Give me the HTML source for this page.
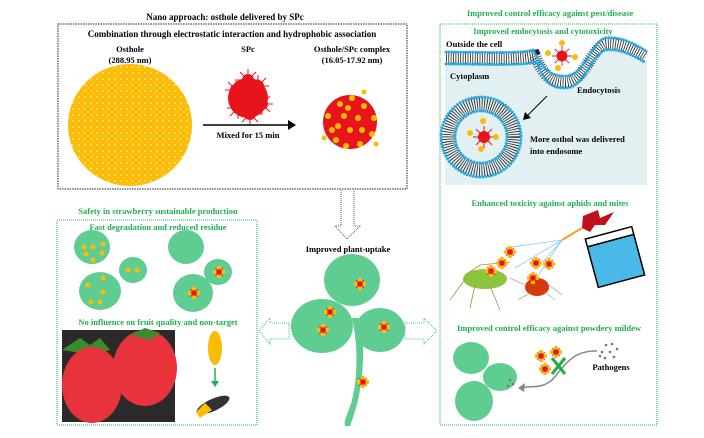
<!DOCTYPE html>
<html><head><meta charset="utf-8"><style>
html,body{margin:0;padding:0;background:#fff;}
svg{display:block;font-family:"Liberation Serif",serif;font-weight:bold;}
</style></head><body>
<svg width="704" height="438" viewBox="0 0 704 438" xmlns="http://www.w3.org/2000/svg">
<defs>
<pattern id="speck" width="6" height="6" patternUnits="userSpaceOnUse">
<rect width="6" height="6" fill="#fbbc05"/><circle cx="1" cy="1" r="0.7" fill="#fff"/><circle cx="4" cy="4" r="0.5" fill="#fde08a"/>
</pattern>
<g id="mk">
<circle cx="0" cy="-4" r="2.3" fill="#fbbc05"/><circle cx="4" cy="0" r="2.3" fill="#fbbc05"/><circle cx="0" cy="4" r="2.3" fill="#fbbc05"/><circle cx="-4" cy="0" r="2.3" fill="#fbbc05"/>
<circle r="2.8" fill="#e8141c"/><path d="M-4,-4L4,4M4,-4L-4,4" stroke="#e8141c" stroke-width="0.8"/>
</g>
<g id="star">
<circle r="6" fill="#e8141c"/><path d="M-11,0H11M0,-11V11M-8,-8L8,8M8,-8L-8,8" stroke="#e8141c" stroke-width="1"/>
</g>
</defs>

<!-- Top section -->
<text x="225" y="20" font-size="9" text-anchor="middle">Nano approach: osthole delivered by SPc</text>
<rect x="58" y="24" width="349" height="165" fill="none" stroke="#222" stroke-width="1" stroke-dasharray="1.5,1"/>
<text x="232" y="37" font-size="9" text-anchor="middle">Combination through electrostatic interaction and hydrophobic association</text>
<text x="130" y="52" font-size="8.5" text-anchor="middle">Osthole</text>
<text x="130" y="63" font-size="8.5" text-anchor="middle">(288.95 nm)</text>
<ellipse cx="130" cy="125" rx="62" ry="61" fill="url(#speck)"/>
<text x="248" y="52" font-size="8.5" text-anchor="middle">SPc</text>
<g transform="translate(248,98)">
<circle r="20" fill="#e8141c"/>
<use href="#star" x="-12" y="-8"/><use href="#star" x="10" y="-12"/><use href="#star" x="14" y="6"/><use href="#star" x="-10" y="10"/><use href="#star" x="2" y="16"/><use href="#star" x="0" y="-18"/>
</g>
<line x1="203" y1="125" x2="290" y2="125" stroke="#000" stroke-width="1.5"/>
<path d="M288,120L296,125L288,130Z" fill="#000"/>
<text x="248" y="138" font-size="8.5" text-anchor="middle">Mixed for 15 min</text>
<text x="352" y="52" font-size="8.5" text-anchor="middle">Osthole/SPc complex</text>
<text x="352" y="63" font-size="8.5" text-anchor="middle">(16.05-17.92 nm)</text>
<g transform="translate(350,122)">
<circle r="27" fill="#e8141c"/>
<g fill="#fbbc05">
<circle cx="-22" cy="-6" r="3"/><circle cx="-18" cy="8" r="3"/><circle cx="-10" cy="-18" r="3"/><circle cx="2" cy="-24" r="3"/><circle cx="14" cy="-16" r="3"/><circle cx="24" cy="-4" r="3"/><circle cx="22" cy="12" r="3"/><circle cx="10" cy="22" r="3"/><circle cx="-4" cy="24" r="3"/><circle cx="-14" cy="18" r="3"/>
<circle cx="-6" cy="-6" r="3"/><circle cx="8" cy="-4" r="3"/><circle cx="0" cy="8" r="3"/><circle cx="12" cy="8" r="3"/><circle cx="-12" cy="4" r="3"/><circle cx="-2" cy="-14" r="3"/><circle cx="14" cy="-30" r="2.5"/><circle cx="-26" cy="16" r="2.5"/><circle cx="26" cy="22" r="2.5"/>
</g></g>

<!-- down arrow -->
<path d="M341,190V226H335L347,239L360,226H354V190" fill="none" stroke="#333" stroke-width="0.8" stroke-dasharray="1,1"/>
<text x="348" y="252" font-size="8.5" text-anchor="middle">Improved plant-uptake</text>

<!-- center plant -->
<g fill="#5fcd92">
<path d="M352,318 C358,345 358,375 352,400 C349,412 343,420 345,426 L350,426 C356,410 362,390 363,360 C364,340 362,325 358,318Z"/>
<ellipse cx="352" cy="280" rx="28" ry="26"/>
<ellipse cx="322" cy="326" rx="31" ry="27"/>
<ellipse cx="380" cy="330" rx="25" ry="22"/>
</g>
<use href="#mk" x="360" y="284"/><use href="#mk" x="330" y="312"/><use href="#mk" x="323" y="330"/><use href="#mk" x="384" y="327"/><use href="#mk" x="363" y="382"/>

<!-- side arrows -->
<path d="M289,323H270V318L259,331L270,344V339H289Z" fill="none" stroke="#22b45a" stroke-width="0.8" stroke-dasharray="1,1"/>
<path d="M405,323H424V318L437,331L424,344V339H405Z" fill="none" stroke="#22b45a" stroke-width="0.8" stroke-dasharray="1,1"/>

<!-- Left box -->
<text x="158" y="214" font-size="8.5" text-anchor="middle" fill="#1fae4f">Safety in strawberry sustainable production</text>
<rect x="57" y="220" width="200" height="205" fill="none" stroke="#22b45a" stroke-width="1" stroke-dasharray="1,1"/>
<text x="158" y="230" font-size="8.5" text-anchor="middle" fill="#1fae4f">Fast degradation and reduced residue</text>
<g fill="#5fcd92">
<ellipse cx="92" cy="247" rx="18" ry="17"/><ellipse cx="133" cy="270" rx="14" ry="13"/><ellipse cx="100" cy="291" rx="21" ry="19"/>
<ellipse cx="186" cy="247" rx="18" ry="17"/><ellipse cx="218" cy="272" rx="14" ry="13"/><ellipse cx="193" cy="293" rx="20" ry="19"/>
</g>
<g fill="#fbbc05">
<circle cx="84" cy="247" r="2.5"/><circle cx="93" cy="247" r="2.5"/><circle cx="103" cy="244" r="2.5"/><circle cx="86" cy="254" r="2.5"/><circle cx="102" cy="253" r="2.5"/><circle cx="93" cy="260" r="2.5"/>
<circle cx="128" cy="270" r="2.5"/><circle cx="137" cy="270" r="2.5"/>
<circle cx="103" cy="278" r="2.5"/><circle cx="88" cy="285" r="2.5"/><circle cx="103" cy="292" r="2.5"/><circle cx="91" cy="302" r="2.5"/><circle cx="100" cy="302" r="2.5"/>
</g>
<use href="#mk" x="219" y="272"/><use href="#mk" x="194" y="293"/>
<text x="158" y="325" font-size="8.5" text-anchor="middle" fill="#1fae4f">No influence on fruit quality and non-target</text>
<rect x="62" y="330" width="113" height="92" fill="#2a2a2a"/>
<path d="M62,350 L80,338 L90,345 L100,338 L110,350 L95,355Z" fill="#3c8a2e"/>
<ellipse cx="92" cy="385" rx="30" ry="38" fill="#e8323c"/>
<ellipse cx="145" cy="368" rx="32" ry="38" fill="#e8323c"/>
<path d="M130,335 L145,328 L160,333 L150,340Z" fill="#3c8a2e"/>
<ellipse cx="215" cy="348" rx="7" ry="17" fill="#fbbc05"/>
<line x1="215" y1="368" x2="215" y2="384" stroke="#1fae4f" stroke-width="1.5"/>
<path d="M211,381L215,387L219,381Z" fill="#1fae4f"/>
<ellipse cx="213" cy="405" rx="18" ry="6" fill="#333" transform="rotate(-25 213 405)"/>
<path d="M196,412 L205,403 L212,410 L200,418Z" fill="#fbbc05"/>

<!-- Right box -->
<text x="550" y="16" font-size="8.5" text-anchor="middle" fill="#1fae4f">Improved control efficacy against pest/disease</text>
<rect x="440" y="24" width="217" height="401" fill="none" stroke="#22b45a" stroke-width="1" stroke-dasharray="1,1"/>
<text x="543" y="34" font-size="8.5" text-anchor="middle" fill="#1fae4f">Improved endocytosis and cytotoxicity</text>
<path d="M445,62 C480,62 520,64 535,62 C540,80 550,88 565,88 C585,88 590,55 605,50 C620,48 635,55 647,62 V185 H445Z" fill="#e2f0f1"/>
<g fill="none">
<path d="M446,58 C480,58 520,60 535,56 C545,78 552,82 565,82 C585,82 590,50 605,44 C620,42 635,50 646,57" stroke="#222" stroke-width="12" stroke-dasharray="0.8,1.6"/>
<path d="M446,52 C480,52 520,54 533,50 C545,72 552,76 565,76 C585,76 590,44 605,38 C620,36 635,44 646,51" stroke="#29a8e0" stroke-width="3" stroke-dasharray="0,3" stroke-linecap="round"/>
<path d="M446,64 C480,64 520,66 537,62 C545,84 552,88 565,88 C585,88 590,56 605,50 C620,48 635,56 646,63" stroke="#29a8e0" stroke-width="3" stroke-dasharray="0,3" stroke-linecap="round"/>
</g>
<text x="446" y="47" font-size="8.5">Outside the cell</text>
<text x="450" y="79" font-size="8.5">Cytoplasm</text>
<text x="577" y="93" font-size="8.5">Endocytosis</text>
<g transform="translate(562,56)"><use href="#star" transform="scale(0.9)"/></g>
<g fill="#fbbc05"><circle cx="562" cy="43" r="3"/><circle cx="548" cy="53" r="3"/><circle cx="575" cy="57" r="3"/><circle cx="558" cy="68" r="3"/></g>
<line x1="547" y1="96" x2="527" y2="116" stroke="#000" stroke-width="1"/>
<path d="M523,120L525,112L531,118Z" fill="#000"/>
<g fill="none">
<circle cx="481" cy="137" r="33" stroke="#222" stroke-width="13" stroke-dasharray="0.8,1.6"/>
<circle cx="481" cy="137" r="40" stroke="#29a8e0" stroke-width="3" stroke-dasharray="0,3.2" stroke-linecap="round"/>
<circle cx="481" cy="137" r="26" stroke="#29a8e0" stroke-width="3" stroke-dasharray="0,3.2" stroke-linecap="round"/>
</g>
<use href="#star" x="484" y="137"/>
<g fill="#fbbc05"><circle cx="483" cy="121" r="3"/><circle cx="470" cy="133" r="3"/><circle cx="496" cy="137" r="3"/><circle cx="481" cy="149" r="3"/></g>
<text x="530" y="142" font-size="8.5">More osthol was delivered</text>
<text x="530" y="154" font-size="8.5">into endosome</text>

<text x="550" y="206" font-size="8.5" text-anchor="middle" fill="#1fae4f">Enhanced toxicity against aphids and mites</text>
<g stroke="#7fd0f0" stroke-width="0.8"><line x1="562" y1="240" x2="505" y2="248"/><line x1="562" y1="240" x2="515" y2="268"/><line x1="562" y1="240" x2="543" y2="262"/><line x1="562" y1="240" x2="535" y2="280"/></g>
<line x1="562" y1="240" x2="582" y2="228" stroke="#f0a020" stroke-width="2"/>
<path d="M583,216 L598,210 L600,218 L614,212 L605,225 L595,225 L590,232 L582,228Z" fill="#c0101a"/>
<g transform="rotate(-15 615 257)"><rect x="591" y="240" width="48" height="42" fill="#4ab8e8" stroke="#000" stroke-width="1.5"/><rect x="591" y="232" width="48" height="8" fill="#fff" stroke="#000" stroke-width="1.5"/></g>
<ellipse cx="485" cy="279" rx="22" ry="10" fill="#8cc63f"/>
<g stroke="#b08a40" stroke-width="0.8" fill="none"><path d="M466,278 L450,300"/><path d="M475,285 L470,308"/><path d="M490,286 L500,310"/><path d="M465,275 L480,265 L510,262"/></g>
<ellipse cx="537" cy="287" rx="12" ry="9" fill="#d43a0c"/>
<g stroke="#aaa" stroke-width="0.8"><line x1="525" y1="285" x2="510" y2="278"/><line x1="549" y1="285" x2="562" y2="295"/><line x1="530" y1="293" x2="518" y2="300"/><line x1="545" y1="292" x2="555" y2="300"/></g>
<use href="#mk" x="510" y="252"/><use href="#mk" x="502" y="263"/><use href="#mk" x="491" y="271"/><use href="#mk" x="536" y="263"/><use href="#mk" x="549" y="264"/><use href="#mk" x="533" y="278"/>

<text x="549" y="331" font-size="8.5" text-anchor="middle" fill="#1fae4f">Improved control efficacy against powdery mildew</text>
<g fill="#5fcd92"><ellipse cx="471" cy="358" rx="18" ry="16"/><ellipse cx="500" cy="377" rx="17" ry="14"/><ellipse cx="474" cy="401" rx="19" ry="20"/></g>
<g fill="#777"><circle cx="510" cy="380" r="1.3"/><circle cx="513" cy="384" r="1.3"/><circle cx="508" cy="386" r="1.3"/><circle cx="606" cy="345" r="1.3"/><circle cx="612" cy="344" r="1.3"/><circle cx="602" cy="352" r="1.3"/><circle cx="610" cy="352" r="1.3"/><circle cx="617" cy="349" r="1.3"/><circle cx="605" cy="358" r="1.3"/><circle cx="614" cy="357" r="1.3"/><circle cx="600" cy="356" r="1.3"/></g>
<path d="M597,351 C570,350 562,370 552,380 C540,390 530,385 522,388" fill="none" stroke="#888" stroke-width="1.5"/>
<path d="M518,388L525,383L524,392Z" fill="#888"/>
<path d="M552,358L565,374M565,358L552,374" stroke="#1fae4f" stroke-width="3"/>
<use href="#mk" x="541" y="356"/><use href="#mk" x="556" y="352"/><use href="#mk" x="545" y="369"/>
<text x="611" y="370" font-size="8.5" text-anchor="middle">Pathogens</text>
</svg>
</body></html>
